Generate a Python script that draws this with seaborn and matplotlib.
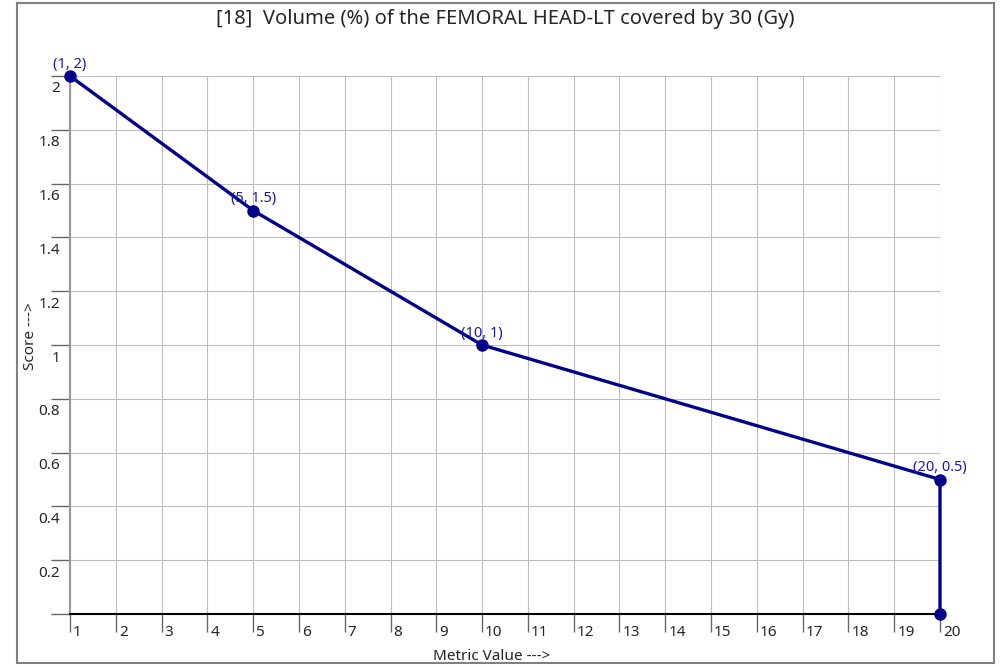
import pandas as pd
import matplotlib.pyplot as plt
import seaborn as sns
from matplotlib.patches import Rectangle
from matplotlib.transforms import ScaledTranslation

# Data
metric_value = [1, 5, 10, 20, 20]
score = [2, 1.5, 1, 0.5, 0]
labeled_points = [(1, 2), (5, 1.5), (10, 1), (20, 0.5)]
x_ticks = list(range(1, 21))
y_ticks = [0, 0.2, 0.4, 0.6, 0.8, 1, 1.2, 1.4, 1.6, 1.8, 2]
title = "[18]  Volume (%) of the FEMORAL HEAD-LT covered by 30 (Gy)"

data = pd.DataFrame({"Metric Value": metric_value, "Score": score})

sns.set_style("white")
plt.rcParams["font.family"] = ["Noto Sans", "DejaVu Sans"]

fig = plt.figure(figsize=(10.01, 6.68), dpi=100)
ax = fig.add_axes([70 / 1001, 1 - 614 / 668, 870 / 1001, 538 / 668])

line_color = "#00008B"
sns.lineplot(
    data=data,
    x="Metric Value",
    y="Score",
    sort=False,
    estimator=None,
    color=line_color,
    linewidth=2.4,
    marker="o",
    markersize=9,
    markeredgewidth=0,
    ax=ax,
    clip_on=False,
    zorder=5,
)

for px, py in labeled_points:
    ax.annotate(
        f"({px:g}, {py:g})",
        (px, py),
        xytext=(0, 3),
        textcoords="offset points",
        ha="center",
        va="bottom",
        fontsize=10.5,
        color="#1a1aa6",
        zorder=6,
    )

ax.set_xlim(1, 20)
ax.set_ylim(0, 2)
ax.set_xticks(x_ticks)
ax.set_xticklabels([str(v) for v in x_ticks])
ax.set_yticks(y_ticks)
ax.set_yticklabels(["" if v == 0 else f"{v:g}" for v in y_ticks])

# grid
ax.grid(True, color="#bdbdbd", linewidth=0.8)
ax.set_axisbelow(True)

for side in ["top", "right"]:
    ax.spines[side].set_visible(False)
ax.spines["left"].set_color("#999999")
ax.spines["left"].set_linewidth(1.5)
ax.spines["bottom"].set_color("black")
ax.spines["bottom"].set_linewidth(1.5)

ax.tick_params(axis="x", direction="out", length=13, width=1, color="#666666",
               labelsize=11, pad=-5)
ax.tick_params(axis="y", direction="out", length=14, width=1, color="#666666",
               labelsize=11, pad=-7)
ax.xaxis.set_ticks_position("bottom")
ax.yaxis.set_ticks_position("left")

for lbl in ax.get_xticklabels():
    lbl.set_horizontalalignment("left")
    lbl.set_transform(lbl.get_transform() + ScaledTranslation(3 / 100, 0, fig.dpi_scale_trans))
for lbl in ax.get_yticklabels():
    lbl.set_transform(lbl.get_transform() + ScaledTranslation(0, -11 / 100, fig.dpi_scale_trans))

ax.set_xlabel("Metric Value --->", fontsize=11)
ax.set_ylabel("Score --->", fontsize=11)
ax.xaxis.set_label_coords((492 - 70) / 870, -(656 - 614) / 538)
ax.yaxis.set_label_coords(-(70 - 30) / 870, (614 - 336) / 538)
ax.xaxis.label.set_va("center")
ax.yaxis.label.set_va("center")

fig.text(505 / 1001, 1 - 19 / 668, title, ha="center", va="center", fontsize=14.5)

# outer frame
fig.patches.append(Rectangle((17 / 1001, 1 - 663 / 668), 977 / 1001, 660 / 668,
                             transform=fig.transFigure, fill=False,
                             edgecolor="#808080", linewidth=1.5))

fig.savefig("out.png", dpi=100)
